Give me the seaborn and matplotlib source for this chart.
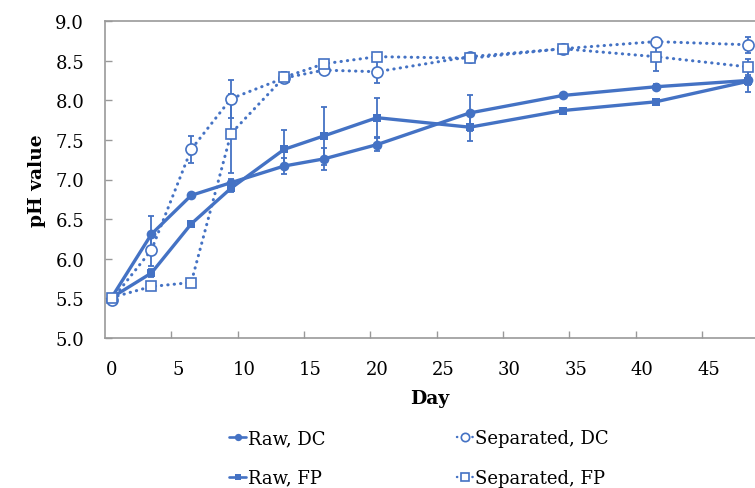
import matplotlib
matplotlib.use("Agg")
import matplotlib.pyplot as plt
import seaborn as sns
import numpy as np
import pandas as pd
from matplotlib.lines import Line2D

days = [0, 3, 6, 9, 13, 16, 20, 27, 34, 41, 48]

raw_dc = [5.51, 6.31, 6.80, 6.96, 7.17, 7.26, 7.44, 7.84, 8.06, 8.17, 8.25]
raw_fp = [5.51, 5.82, 6.44, 6.89, 7.38, 7.55, 7.78, 7.66, 7.87, 7.98, 8.24]
sep_dc = [5.48, 6.11, 7.38, 8.02, 8.28, 8.38, 8.36, 8.55, 8.65, 8.74, 8.70]
sep_fp = [5.51, 5.65, 5.70, 7.58, 8.29, 8.46, 8.55, 8.53, 8.65, 8.55, 8.42]

raw_dc_err = [0.0, 0.23, 0.03, 0.05, 0.10, 0.14, 0.08, 0.23, 0.03, 0.03, 0.15]
raw_fp_err = [0.0, 0.05, 0.03, 0.05, 0.25, 0.37, 0.25, 0.17, 0.03, 0.03, 0.05]
sep_dc_err = [0.0, 0.20, 0.17, 0.24, 0.05, 0.05, 0.14, 0.03, 0.03, 0.03, 0.10]
sep_fp_err = [0.0, 0.03, 0.03, 0.50, 0.07, 0.05, 0.03, 0.03, 0.03, 0.18, 0.10]

labels = ["Raw, DC", "Raw, FP", "Separated, DC", "Separated, FP"]

sns.set_theme(style="white")
plt.rcParams['font.family'] = ['DejaVu Serif', 'Liberation Serif']
plt.rcParams['text.color'] = 'black'
plt.rcParams['axes.labelcolor'] = 'black'
plt.rcParams['xtick.labelcolor'] = 'black'
plt.rcParams['ytick.labelcolor'] = 'black'

color = "#4472C4"
fig = plt.figure(figsize=(7.55, 4.89), dpi=100)
ax = fig.add_axes([105/755, 1-339/489, 650/755, (339-22)/489])

series = [
    (raw_dc, raw_dc_err, dict(marker='o', linestyle='-', lw=2.4, ms=7, mfc=color, mew=0)),
    (raw_fp, raw_fp_err, dict(marker='s', linestyle='-', lw=2.4, ms=6.3, mfc=color, mew=0)),
    (sep_dc, sep_dc_err, dict(marker='o', linestyle=(0, (0.1, 2.0)), lw=2.2, ms=8, mfc='white', mew=1.2)),
    (sep_fp, sep_fp_err, dict(marker='s', linestyle=(0, (0.1, 2.0)), lw=2.2, ms=7.5, mfc='white', mew=1.2)),
]

handles = []
for (vals, errs, st), lab in zip(series, labels):
    df = pd.DataFrame({"Day": days, "pH": vals})
    ax.errorbar(days, vals, yerr=errs, fmt='none', ecolor=color, elinewidth=1.3,
                capsize=2.5, capthick=1.3, zorder=2)
    sns.lineplot(data=df, x="Day", y="pH", ax=ax, color=color, marker=st['marker'],
                 linestyle=st['linestyle'], linewidth=st['lw'], markersize=st['ms'],
                 markerfacecolor=st['mfc'], markeredgecolor=color, markeredgewidth=st['mew'],
                 dash_capstyle='round', solid_capstyle='round', zorder=3, clip_on=False)
    handles.append(Line2D([], [], color=color, marker=st['marker'], linestyle=st['linestyle'],
                          linewidth=st['lw'] * 0.8, markersize=st['ms'] * 0.75,
                          markerfacecolor=st['mfc'], markeredgecolor=color,
                          markeredgewidth=st['mew'], dash_capstyle='round'))

ax.set_xlim(-0.5, 48.5)
ax.set_ylim(5.0, 9.0)
ax.set_xticks(range(0, 50, 5))
ax.set_xticks(np.arange(4.5, 48, 5), minor=True)
ax.set_yticks(np.arange(5.0, 9.01, 0.5))
ax.set_yticklabels([f"{v:.1f}" for v in np.arange(5.0, 9.01, 0.5)])
ax.tick_params(axis='x', which='major', length=0, labelsize=13, pad=16, labelcolor='black')
ax.tick_params(axis='x', which='minor', direction='in', length=5, width=1, color='#999999', bottom=True)
ax.tick_params(axis='y', direction='in', length=5, width=1, color='#999999', labelsize=13, pad=15,
               left=True, labelcolor='black')

for s in ['left', 'bottom', 'top']:
    ax.spines[s].set_color('#999999')
    ax.spines[s].set_linewidth(1.2)
ax.spines['right'].set_visible(False)

ax.set_xlabel("Day", fontsize=13.5, fontweight='bold', labelpad=8, color='black')
ax.set_ylabel("pH value", fontsize=13.5, fontweight='bold', labelpad=7, color='black')
ax.grid(False)
if ax.get_legend():
    ax.get_legend().remove()

leg = fig.legend(handles, labels,
                 ncol=2, loc='center', bbox_to_anchor=(419/755, 1-459/489),
                 frameon=False, fontsize=13, handlelength=0.9, handletextpad=0.1,
                 columnspacing=7.3, labelspacing=1.2)
for t in leg.get_texts():
    t.set_color('black')

fig.savefig("out.png", dpi=100)
